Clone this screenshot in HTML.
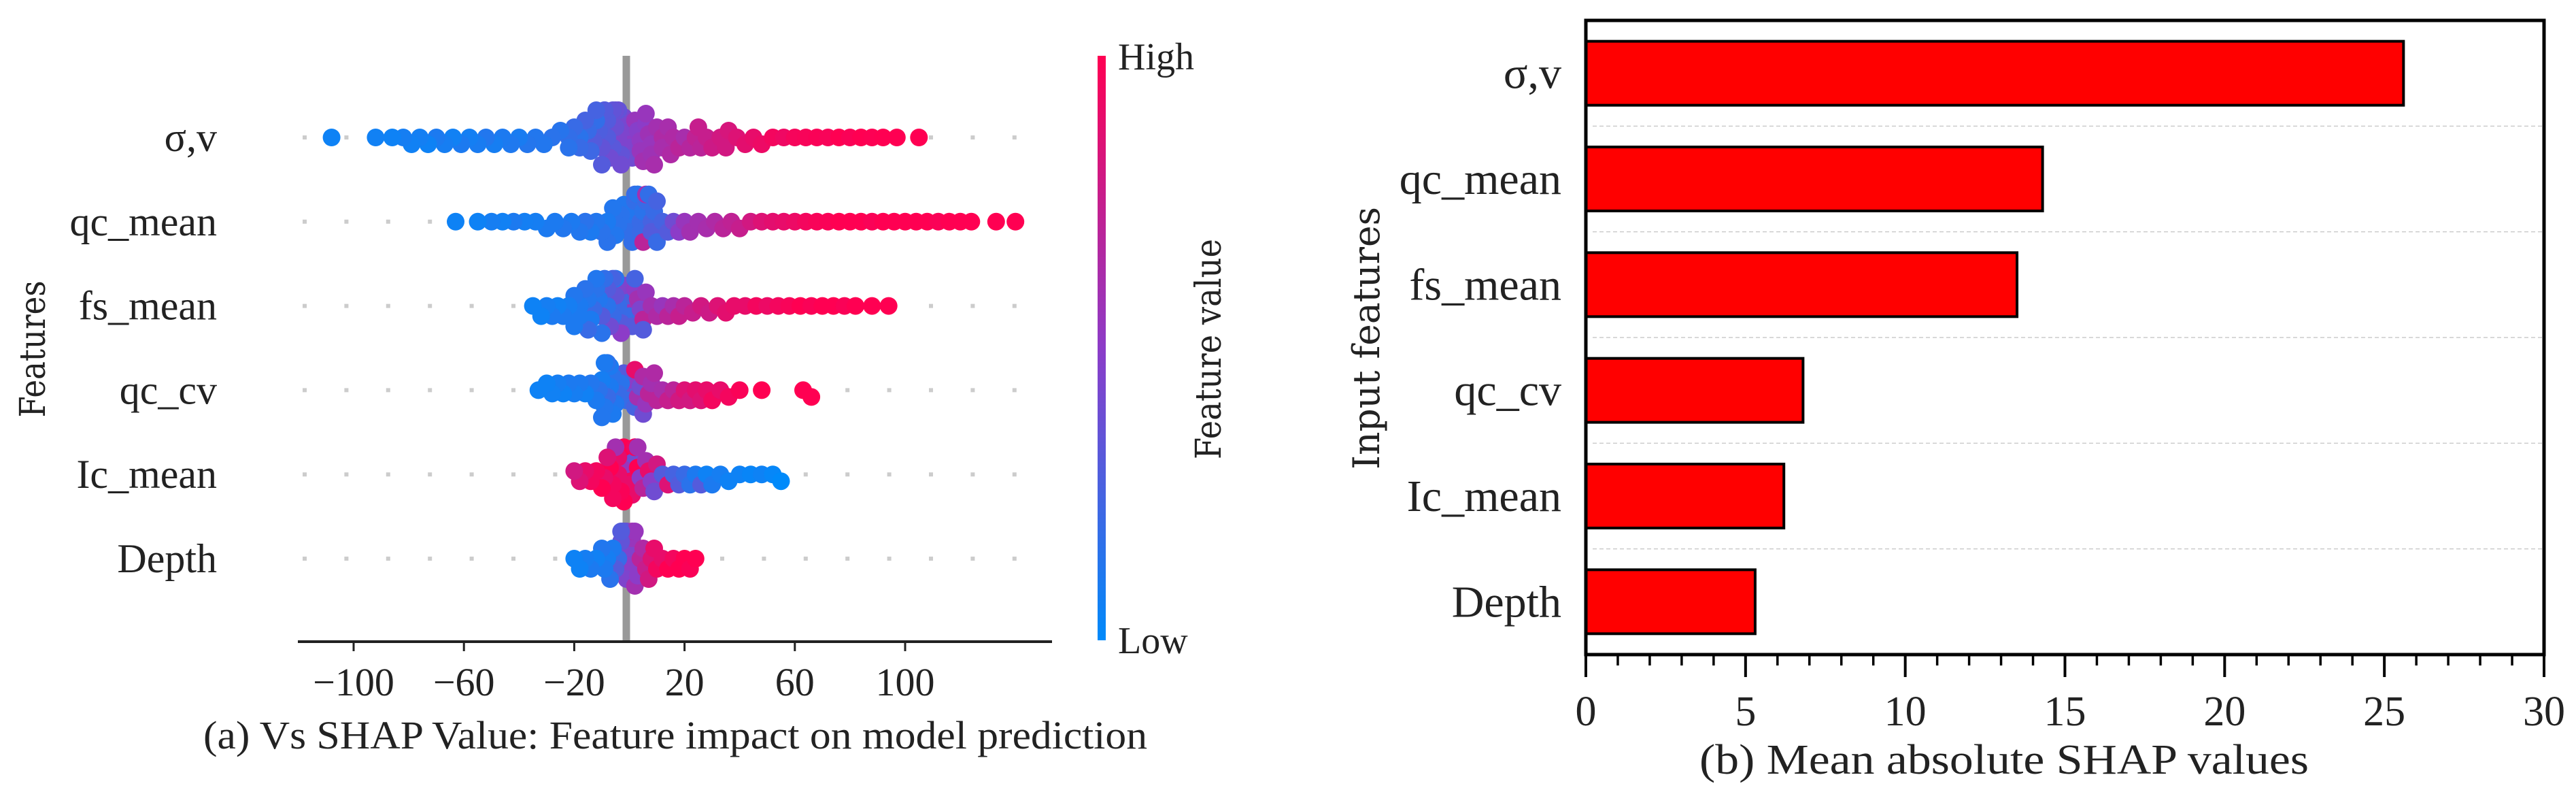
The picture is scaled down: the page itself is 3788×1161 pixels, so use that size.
<!DOCTYPE html>
<html><head><meta charset="utf-8"><style>
html,body{margin:0;padding:0;background:#fff;}
svg{display:block;}
text{font-family:"Liberation Serif",serif;fill:#222;}
</style></head><body>
<svg id="chart" width="3788" height="1161" viewBox="0 0 3788 1161" xmlns="http://www.w3.org/2000/svg">
<defs><linearGradient id="cbar" x1="0" y1="1" x2="0" y2="0">
<stop offset="0" stop-color="rgb(0,138,250)"/><stop offset="0.5" stop-color="rgb(140,60,200)"/><stop offset="1" stop-color="rgb(255,0,82)"/></linearGradient></defs>
<g id="left"></g>
<g id="right"></g>
</svg>
<script>
const NS="http://www.w3.org/2000/svg";
// ---- Panel (a) data ----
const featureNames=["σ,v","qc_mean","fs_mean","qc_cv","Ic_mean","Depth"];
const shapTicks=[-100,-60,-20,20,60,100];
const shapSigma=[-108,-92,-86,-82,-79,-76,-73,-70,-67,-64,-61,-58,-55,-52,-49,-46,-43,-40,-37,-34,-31,-28,-25,-22,-20,-18,-16,-14,-13,-12,-11,-10,-9,-8,-7,-6,-5,-4,-3,-2,-1,0,1,2,3,4,5,6,7,8,9,10,12,14,-15,-10,-6,-3,-12,-8,0,-5,16,18,20,22,24,26,28,30,33,36,39,42,45,48,52,56,60,64,68,72,76,80,84,88,92,97,105,4,8,12,-18,-22,-4,6,15,25,35,-9];
const featSigma=[0.05,0.06,0.05,0.08,0.06,0.07,0.05,0.1,0.08,0.06,0.1,0.07,0.09,0.12,0.08,0.1,0.11,0.09,0.13,0.12,0.12,0.15,0.14,0.18,0.2,0.15,0.25,0.22,0.3,0.18,0.28,0.35,0.25,0.3,0.4,0.32,0.38,0.45,0.35,0.42,0.45,0.5,0.4,0.55,0.48,0.52,0.6,0.5,0.58,0.55,0.62,0.6,0.65,0.62,0.2,0.3,0.35,0.4,0.25,0.3,0.45,0.38,0.65,0.7,0.62,0.68,0.72,0.7,0.75,0.78,0.8,0.82,0.85,0.88,0.9,0.92,0.95,0.93,0.96,0.97,0.98,0.97,1,0.98,1,0.99,1,1,1,0.55,0.58,0.62,0.2,0.15,0.35,0.55,0.65,0.75,0.8,0.3];
const shapQcMean=[-63,-55,-50,-46,-42,-38,-34,-30,-27,-24,-21,-18,-16,-14,-12,-10,-8,-6,-4,-2,0,1,2,3,4,5,6,7,8,9,10,12,-5,0,3,6,-8,2,5,-3,14,16,18,20,22,25,28,31,34,37,40,44,48,52,56,60,64,68,72,76,80,84,88,92,96,100,104,108,112,116,120,124,133,140,10,4,1,8];
const featQcMean=[0.05,0.05,0.08,0.06,0.1,0.07,0.08,0.1,0.1,0.12,0.1,0.12,0.15,0.1,0.12,0.15,0.1,0.12,0.15,0.12,0.15,0.12,0.18,0.15,0.2,0.15,0.2,0.18,0.25,0.2,0.2,0.25,0.12,0.18,0.15,0.6,0.15,0.2,0.7,0.15,0.3,0.4,0.5,0.55,0.6,0.6,0.62,0.65,0.7,0.72,0.75,0.8,0.85,0.88,0.9,0.92,0.95,0.97,0.98,1,1,1,0.98,1,1,1,1,1,0.98,1,1,1,1,1,0.25,0.2,0.18,0.3];
const shapFsMean=[-35,-32,-30,-28,-26,-24,-22,-20,-18,-16,-15,-14,-13,-12,-11,-10,-9,-8,-7,-6,-5,-4,-3,-2,-1,0,1,2,3,4,5,6,-20,-15,-10,-8,-12,-6,-3,-18,8,10,12,14,16,18,20,23,26,29,32,35,38,42,46,50,54,58,62,66,70,74,78,82,88,94,0,-5,5,2];
const featFsMean=[0.05,0.05,0.08,0.1,0.06,0.1,0.08,0.12,0.1,0.15,0.12,0.1,0.2,0.15,0.12,0.3,0.18,0.15,0.4,0.2,0.35,0.2,0.3,0.45,0.25,0.55,0.3,0.5,0.6,0.45,0.7,0.55,0.1,0.2,0.15,0.3,0.12,0.25,0.5,0.1,0.6,0.65,0.55,0.7,0.62,0.75,0.7,0.75,0.8,0.78,0.85,0.88,0.9,0.9,0.95,0.92,0.95,0.97,1,0.98,1,1,0.98,1,1,1,0.2,0.15,0.3,0.25];
const shapQcCv=[-33,-30,-28,-26,-24,-22,-20,-18,-16,-14,-12,-11,-10,-9,-8,-7,-6,-5,-4,-3,-2,-1,0,1,2,3,4,5,6,7,8,9,10,12,14,16,18,20,22,24,26,28,30,33,36,40,48,63,66,-9,-8,-6,-10,2,5,-7];
const featQcCv=[0.05,0.05,0.06,0.08,0.05,0.1,0.08,0.1,0.06,0.12,0.1,0.15,0.08,0.12,0.2,0.1,0.15,0.12,0.2,0.15,0.3,0.2,0.35,0.5,0.25,0.6,0.4,0.65,0.55,0.7,0.6,0.65,0.7,0.62,0.75,0.7,0.8,0.85,0.8,0.88,0.85,0.9,0.95,0.9,0.95,0.98,1,1,1,0.1,0.15,0.1,0.12,0.9,0.4,0.1];
const shapIcMean=[-20,-18,-16,-14,-12,-10,-9,-8,-7,-6,-5,-4,-3,-2,-1,0,1,2,3,4,5,6,7,8,9,10,12,14,16,18,20,22,24,26,28,30,33,36,40,44,48,52,55,0,-2,2,-4,1,-6,3];
const featIcMean=[0.8,0.85,0.9,0.95,0.95,1,0.9,0.85,1,0.95,0.6,0.9,0.98,1,0.55,0.95,0.9,0.85,1,0.5,0.7,0.6,0.9,0.5,0.4,0.8,0.3,0.85,0.25,0.3,0.2,0.15,0.1,0.3,0.05,0.1,0.08,0.05,0.05,0.03,0.05,0.02,0,0.9,1,0.95,0.9,0.4,0.95,0.6];
const shapDepth=[-20,-18,-16,-14,-12,-10,-9,-8,-7,-6,-5,-4,-3,-2,-1,0,1,2,3,4,5,6,7,8,9,10,12,14,16,18,20,22,24,-1,0,1,-2,2,0,-3];
const featDepth=[0.05,0.05,0.08,0.1,0.06,0.12,0.1,0.08,0.15,0.1,0.3,0.2,0.35,0.4,0.45,0.5,0.55,0.6,0.5,0.7,0.65,0.75,0.8,0.85,0.9,0.95,0.9,1,0.95,1,1,0.98,1,0.4,0.5,0.6,0.35,0.55,0.45,0.3];
// ---- Panel (b) data ----
const barCategories=["σ,v","qc_mean","fs_mean","qc_cv","Ic_mean","Depth"];
const barValues=[25.6,14.3,13.5,6.8,6.2,5.3];
const barTicks=[0,5,10,15,20,25,30];

function el(parent,tag,attrs,txt){const e=document.createElementNS(NS,tag);for(const k in attrs)e.setAttribute(k,attrs[k]);if(txt!==undefined)e.textContent=txt;parent.appendChild(e);return e;}

// ===== Panel (a) =====
const L=document.getElementById('left');
const xA=v=>925.5+v*4.055;
const rowYA=i=>202+i*123.8;
const axL=438, axR=1547, axBottom=943;
function colorFor(f){
  const a=[0,138,250],m=[140,60,200],b=[255,0,82];let c;
  if(f<0.5){const t=f/0.5;c=a.map((v,i)=>Math.round(v+(m[i]-v)*t));}
  else{const t=(f-0.5)/0.5;c=m.map((v,i)=>Math.round(v+(b[i]-v)*t));}
  return `rgb(${c[0]},${c[1]},${c[2]})`;
}
featureNames.forEach((n,i)=>{
  const g=el(L,'line',{x1:445,x2:1547,y1:rowYA(i),y2:rowYA(i),stroke:'#ccc','stroke-width':6,'stroke-dasharray':'6 55.4'});
  
  
  const t=el(L,'text',{x:319,y:rowYA(i)+20,'text-anchor':'end','font-size':60},n);
  
  
});
const zl=el(L,'line',{x1:921,x2:921,y1:82,y2:axBottom,stroke:'#999','stroke-width':11});


const shapSets=[shapSigma,shapQcMean,shapFsMean,shapQcCv,shapIcMean,shapDepth];
const featSets=[featSigma,featQcMean,featFsMean,featQcCv,featIcMean,featDepth];
const R=13;
shapSets.forEach((sv,i)=>{
  const fv=featSets[i];const n=Math.min(sv.length,fv.length);
  const idx=[...Array(n).keys()].sort((a,b)=>Math.abs(sv[a])-Math.abs(sv[b]));
  const placed=[];const cy0=rowYA(i);const pts=[];
  idx.forEach(k=>{
    const px=xA(sv[k]);let off=0;
    for(let s=0;s<40;s++){
      const cand=(s%2?1:-1)*Math.ceil(s/2)*5;
      if(Math.abs(cand)>42)break;
      if(placed.every(p=>(p[0]-px)**2+(p[1]-cand)**2>=(1.15*R)**2)){off=cand;break;}
      off=cand;
    }
    placed.push([px,off]);pts.push([px,cy0+off,fv[k]]);
  });
  const g=el(L,'g',{});
  
  
  pts.forEach(p=>{
    const c=el(g,'circle',{cx:p[0].toFixed(1),cy:p[1].toFixed(1),r:R,fill:colorFor(p[2])});
    
    
  });
});
const xa=el(L,'line',{x1:axL,x2:axR,y1:axBottom,y2:axBottom,stroke:'#222','stroke-width':4});


shapTicks.forEach(t=>{
  const tk=el(L,'line',{x1:xA(t),x2:xA(t),y1:axBottom,y2:axBottom+14,stroke:'#222','stroke-width':3});
  
  
  const lb=el(L,'text',{x:xA(t),y:1022,'text-anchor':'middle','font-size':58},t<0?'−'+Math.abs(t):String(t));
  
  
});
let e;
e=el(L,'text',{x:993,y:1100,'text-anchor':'middle','font-size':58,textLength:1388,lengthAdjust:'spacingAndGlyphs'},'(a)  Vs SHAP Value: Feature impact on model prediction');


e=el(L,'text',{x:0,y:0,'text-anchor':'middle','font-size':52,transform:'translate(66,513) rotate(-90)',textLength:201,lengthAdjust:'spacingAndGlyphs','style':'font-family:"DejaVu Serif",serif'},'Features');


e=el(L,'rect',{x:1614,y:82,width:12,height:859,fill:'url(#cbar)'});


e=el(L,'text',{x:1644,y:102,'font-size':56},'High');


e=el(L,'text',{x:1644,y:960,'font-size':56},'Low');


e=el(L,'text',{x:0,y:0,'text-anchor':'middle','font-size':52,transform:'translate(1795,513) rotate(-90)',textLength:324,lengthAdjust:'spacingAndGlyphs','style':'font-family:"DejaVu Serif",serif'},'Feature value');



// ===== Panel (b) =====
const Rg=document.getElementById('right');
const pL=2332,pR=3741,pT=30,pB=962;
const xB=v=>pL+(v/30)*(pR-pL);
const rowH=(pB-pT)/barCategories.length;
for(let i=1;i<barCategories.length;i++){
  e=el(Rg,'line',{x1:pL+10,x2:pR,y1:pT+i*rowH,y2:pT+i*rowH,stroke:'#ccc','stroke-width':1.5,'stroke-dasharray':'6 4'});
  
  
}
barCategories.forEach((c,i)=>{
  const cy=pT+rowH*(i+0.5);
  e=el(Rg,'rect',{x:pL,y:cy-47,width:xB(barValues[i])-pL,height:94,fill:'#ff0000',stroke:'#000','stroke-width':4});
  
  
  e=el(Rg,'text',{x:2296,y:cy+22,'text-anchor':'end','font-size':66},c);
  
  
});
e=el(Rg,'rect',{x:pL,y:pT,width:pR-pL,height:pB-pT,fill:'none',stroke:'#000','stroke-width':5});


for(let v=0;v<=30;v++){
  const major=v%5===0;
  e=el(Rg,'line',{x1:xB(v),x2:xB(v),y1:pB,y2:pB+(major?33:16),stroke:'#000','stroke-width':major?4:3.5});
  
  
}
barTicks.forEach(t=>{
  e=el(Rg,'text',{x:xB(t),y:1066,'text-anchor':'middle','font-size':62},String(t));
  
  
});
e=el(Rg,'text',{x:2947,y:1137,'text-anchor':'middle','font-size':62,textLength:896,lengthAdjust:'spacingAndGlyphs'},'(b)  Mean absolute SHAP values');


e=el(Rg,'text',{x:0,y:0,'text-anchor':'middle','font-size':54,transform:'translate(2028,497) rotate(-90)',textLength:386,lengthAdjust:'spacingAndGlyphs','style':'font-family:"DejaVu Serif",serif'},'Input features');


</script>
</body></html>
